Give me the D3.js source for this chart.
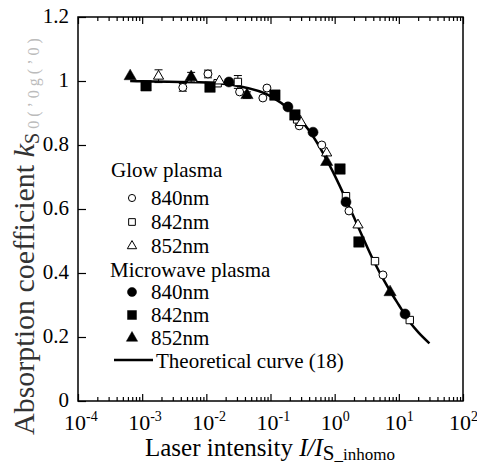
<!DOCTYPE html>
<html>
<head>
<meta charset="utf-8">
<script src="https://cdn.jsdelivr.net/npm/d3@7"></script>
<style>
  body { margin: 0; background: #fff; }
</style>
</head>
<body>
<div id="chart"></div>
<script>
// values: [I/I_s, k, error]
var glow840 = [[4.3e-3, 0.98, 0.012], [0.0106, 1.022, 0.012], [0.033, 0.966, 0], [0.076, 0.947, 0], [0.088, 0.978, 0], [0.28, 0.86, 0], [0.63, 0.80, 0], [1.67, 0.594, 0], [5.66, 0.394, 0]];
var glow842 = [[0.031, 0.997, 0.02], [0.015, 0.993, 0], [0.26, 0.88, 0], [1.5, 0.64, 0], [4.25, 0.437, 0], [14.8, 0.253, 0]];
var glow852 = [[1.8e-3, 1.015, 0.02], [6.0e-3, 1.005, 0], [0.016, 1.0, 0], [0.3, 0.87, 0], [0.75, 0.775, 0], [2.31, 0.55, 0]];
var mw840 = [[0.0225, 0.997, 0], [0.187, 0.919, 0], [0.46, 0.84, 0], [1.5, 0.622, 0], [12.5, 0.272, 0]];
var mw842 = [[1.15e-3, 0.985, 0], [0.0114, 0.981, 0], [0.117, 0.956, 0], [0.24, 0.894, 0], [1.21, 0.725, 0], [2.39, 0.497, 0]];
var mw852 = [[6.5e-4, 1.015, 0], [5.8e-3, 1.012, 0.015], [0.043, 0.956, 0.01], [0.75, 0.747, 0], [7.3, 0.34, 0]];
var curve = [[6.5e-4, 1.0], [1e-3, 0.999], [1e-2, 0.995], [0.03, 0.985], [0.1, 0.953], [0.2, 0.91], [0.4, 0.845], [0.7, 0.765], [1, 0.705], [1.5, 0.63], [2.5, 0.53], [4, 0.44], [7, 0.35], [10, 0.30], [15, 0.245], [20, 0.215], [30, 0.18]];
var yTicks = [0, 0.2, 0.4, 0.6, 0.8, 1, 1.2];
var yTickLabels = ["0", "0.2", "0.4", "0.6", "0.8", "1", "1.2"];
var xDecades = [-4, -3, -2, -1, 0, 1, 2];

var svg = d3.select("#chart").append("svg")
    .attr("width", 477)
    .attr("height", 464);

var x = d3.scaleLog().domain([1e-4, 1e2]).range([78, 463]);
var y = d3.scaleLinear().domain([0, 1.2]).range([401, 17]);

// frame
svg.append("rect")
    .attr("x", x(1e-4)).attr("y", y(1.2))
    .attr("width", x(1e2) - x(1e-4)).attr("height", y(0) - y(1.2))
    .attr("fill", "none").attr("stroke", "#000").attr("stroke-width", 1.5);

// x ticks, bottom and top, inside
var minor = [];
xDecades.forEach(function(e) {
    if (e < 2) for (var m = 2; m <= 9; m++) minor.push(m * Math.pow(10, e));
});
var decades = xDecades.map(function(e) { return Math.pow(10, e); });

function xTicks(axis, yPos, vals, len) {
    svg.append("g")
        .attr("transform", "translate(0," + yPos + ")")
        .call(axis(x).tickValues(vals).tickSize(-len).tickFormat(""))
        .call(function(g) { g.select(".domain").remove(); })
        .selectAll("line").attr("stroke-width", 1.2);
}
xTicks(d3.axisBottom, y(0), minor, 4);
xTicks(d3.axisBottom, y(0), decades, 7);
xTicks(d3.axisTop, y(1.2), minor, 4);
xTicks(d3.axisTop, y(1.2), decades, 7);

// y ticks
svg.append("g")
    .attr("transform", "translate(" + x(1e-4) + ",0)")
    .call(d3.axisLeft(y).tickValues(yTicks).tickSize(-8).tickFormat(""))
    .call(function(g) { g.select(".domain").remove(); })
    .selectAll("line").attr("stroke-width", 1.2);

svg.selectAll(".ylab")
    .data(yTicks)
    .enter()
    .append("text")
    .attr("x", 69)
    .attr("y", function(d) { return y(d) - 1; })
    .attr("dy", "0.35em")
    .attr("text-anchor", "end")
    .attr("font-size", 21)
    .text(function(d, i) { return yTickLabels[i]; });

// x tick labels 10^n
var xl = svg.selectAll(".xlab")
    .data(xDecades)
    .enter()
    .append("g");
xl.append("text")
    .attr("x", function(d) { return x(Math.pow(10, d)) - 3; })
    .attr("y", 430)
    .attr("text-anchor", "middle")
    .attr("font-size", 22)
    .text("10");
xl.append("text")
    .attr("x", function(d) { return x(Math.pow(10, d)) + 8; })
    .attr("y", 421)
    .attr("font-size", 14)
    .text(function(d) { return String(d); });

// axis titles
var xt = svg.append("text")
    .attr("x", 145)
    .attr("y", 456)
    .attr("font-size", 25);
xt.append("tspan").text("Laser intensity ");
xt.append("tspan").attr("font-style", "italic").text("I/I");
xt.append("tspan").attr("font-size", 21).attr("dy", 4).text("S");
xt.append("tspan").attr("font-size", 17).text("_inhomo");

var yt = svg.append("text")
    .attr("transform", "translate(34,435) rotate(-90)")
    .attr("font-size", 30)
    .attr("fill", "#333");
yt.append("tspan").text("Absorption coefficient ");
yt.append("tspan").attr("font-style", "italic").text("k");
yt.append("tspan").attr("font-size", 20).attr("dy", 5).text("S");
yt.append("tspan").attr("font-size", 16).attr("fill", "#bbb").attr("dy", 0).text(" 0  (  \u02bc  0  g  (  \u02bc  0 )");

// theoretical curve
var line = d3.line()
    .x(function(d) { return x(d[0]); })
    .y(function(d) { return y(d[1]); })
    .curve(d3.curveMonotoneX);
svg.append("path")
    .datum(curve)
    .attr("d", line)
    .attr("fill", "none")
    .attr("stroke", "#000")
    .attr("stroke-width", 2.5);

// markers
function marker(g, type, size) {
    var filled = type.indexOf("f") === 0;
    var shape = type.slice(1);
    var sym = shape === "c" ? d3.symbolCircle : shape === "s" ? d3.symbolSquare : d3.symbolTriangle;
    g.append("path")
        .attr("d", d3.symbol().type(sym).size(size))
        .attr("fill", filled ? "#000" : "#fff")
        .attr("stroke", "#000")
        .attr("stroke-width", filled ? 0.5 : 1);
}

function drawSeries(data, type, size) {
    var g = svg.append("g");
    var pts = g.selectAll("g")
        .data(data)
        .enter()
        .append("g")
        .attr("transform", function(d) { return "translate(" + x(d[0]) + "," + y(d[1]) + ")"; });
    pts.filter(function(d) { return d[2] > 0; }).each(function(d) {
        var e = d3.select(this);
        var h = y(d[1] - d[2]) - y(d[1]);
        e.append("line").attr("y1", -h).attr("y2", h).attr("stroke", "#000");
        e.append("line").attr("x1", -4).attr("x2", 4).attr("y1", -h).attr("y2", -h).attr("stroke", "#000");
        e.append("line").attr("x1", -4).attr("x2", 4).attr("y1", h).attr("y2", h).attr("stroke", "#000");
    });
    pts.each(function() { marker(d3.select(this), type, size); });
}

drawSeries(glow840, "oc", 50);
drawSeries(glow842, "os", 55);
drawSeries(glow852, "ot", 45);
drawSeries(mw840, "fc", 80);
drawSeries(mw842, "fs", 110);
drawSeries(mw852, "ft", 65);

// legend
var legendRows = [
    {label: "840nm", type: "oc", size: 40, yb: 205},
    {label: "842nm", type: "os", size: 45, yb: 229},
    {label: "852nm", type: "ot", size: 38, yb: 253},
    {label: "840nm", type: "fc", size: 65, yb: 299},
    {label: "842nm", type: "fs", size: 80, yb: 322},
    {label: "852nm", type: "ft", size: 55, yb: 345}
];
svg.append("text").attr("x", 111).attr("y", 177).attr("font-size", 21).text("Glow plasma");
svg.append("text").attr("x", 110).attr("y", 277).attr("font-size", 21).text("Microwave plasma");
legendRows.forEach(function(r) {
    var g = svg.append("g").attr("transform", "translate(132," + (r.yb - 7) + ")");
    marker(g, r.type, r.size);
    svg.append("text").attr("x", 151).attr("y", r.yb).attr("font-size", 21).text(r.label);
});
svg.append("line")
    .attr("x1", 114).attr("x2", 153).attr("y1", 360).attr("y2", 360)
    .attr("stroke", "#000").attr("stroke-width", 2.5);
svg.append("text").attr("x", 156).attr("y", 368).attr("font-size", 21).text("Theoretical curve (18)");

svg.selectAll("text").style("font-family", "'Liberation Serif'");
</script>
</body>
</html>
